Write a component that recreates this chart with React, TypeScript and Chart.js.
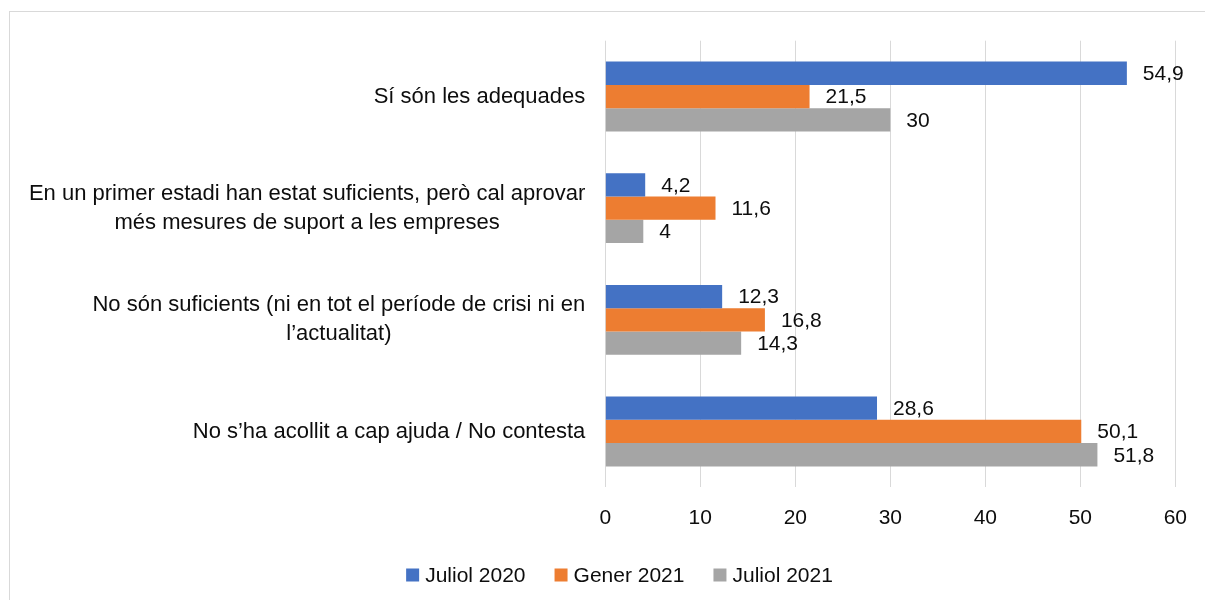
import React, { useEffect, useRef } from "react";
import { Chart, registerables } from "chart.js";

Chart.register(...registerables);

const categories: string[][] = [
  ["Sí són les adequades"],
  ["En un primer estadi han estat suficients, però cal aprovar", "més mesures de suport a les empreses"],
  ["No són suficients (ni en tot el període de crisi ni en", "l’actualitat)"],
  ["No s’ha acollit a cap ajuda / No contesta"],
];
const seriesNames = ["Juliol 2020", "Gener 2021", "Juliol 2021"];
const juliol2020 = [54.9, 4.2, 12.3, 28.6];
const gener2021 = [21.5, 11.6, 16.8, 50.1];
const juliol2021 = [30, 4, 14.3, 51.8];
const xMin = 0;
const xMax = 60;
const xStep = 10;

const colors = ["#4472C4", "#ED7D31", "#A5A5A5"];
const FONT = "'Liberation Sans', Arial, sans-serif";
const TEXT = "#0d0d0d";

const fmt = (v: number) => String(v).replace(".", ",");

const categoryLabelPlugin = {
  id: "categoryLabels",
  afterDraw(chart: any) {
    const ctx = chart.ctx;
    const yScale = chart.scales.y;
    const right = chart.chartArea.left - 20;
    const lineH = 29;
    ctx.save();
    ctx.font = `22px ${FONT}`;
    ctx.fillStyle = TEXT;
    ctx.textAlign = "center";
    ctx.textBaseline = "middle";
    (chart.data.labels as string[][]).forEach((lines, i) => {
      const yc = yScale.getPixelForValue(i);
      const maxW = Math.max(...lines.map((l) => ctx.measureText(l).width));
      const cx = right - maxW / 2;
      const y0 = yc - ((lines.length - 1) * lineH) / 2;
      lines.forEach((l, k) => ctx.fillText(l, cx, y0 + k * lineH));
    });
    ctx.restore();
  },
};

const dataLabelPlugin = {
  id: "dataLabels",
  afterDatasetsDraw(chart: any) {
    const ctx = chart.ctx;
    ctx.save();
    ctx.font = `21px ${FONT}`;
    ctx.fillStyle = TEXT;
    ctx.textAlign = "left";
    ctx.textBaseline = "middle";
    chart.data.datasets.forEach((ds: any, di: number) => {
      const meta = chart.getDatasetMeta(di);
      meta.data.forEach((el: any, i: number) => {
        ctx.fillText(fmt(ds.data[i]), el.x + 16, el.y + 1);
      });
    });
    ctx.restore();
  },
};

const legendPlugin = {
  id: "customLegend",
  afterDraw(chart: any) {
    const ctx = chart.ctx;
    ctx.save();
    ctx.font = `21px ${FONT}`;
    ctx.textBaseline = "middle";
    ctx.textAlign = "left";
    const cy = 575;
    const box = 13;
    const widths = chart.data.datasets.map((ds: any) => ctx.measureText(ds.label).width);
    const total = widths.reduce((a: number, b: number) => a + b, 0) + chart.data.datasets.length * (box + 6) + (chart.data.datasets.length - 1) * 29;
    let x = 619.5 - total / 2;
    chart.data.datasets.forEach((ds: any, i: number) => {
      ctx.fillStyle = ds.backgroundColor;
      ctx.fillRect(x, cy - box / 2, box, box);
      ctx.fillStyle = TEXT;
      ctx.fillText(ds.label, x + box + 6, cy + 1);
      x += box + 6 + widths[i] + 29;
    });
    ctx.restore();
  },
};

export default function App() {
  const canvasRef = useRef<HTMLCanvasElement | null>(null);

  useEffect(() => {
    document.body.style.margin = "0";
    const canvas = canvasRef.current;
    if (!canvas) return;
    const values = [juliol2020, gener2021, juliol2021];
    const chart = new Chart(canvas, {
      type: "bar",
      data: {
        labels: categories,
        datasets: seriesNames.map((name, i) => ({
          label: name,
          data: values[i],
          backgroundColor: colors[i],
          borderWidth: 0,
          categoryPercentage: 0.626,
          barPercentage: 1,
        })),
      },
      options: {
        indexAxis: "y",
        responsive: false,
        animation: false,
        devicePixelRatio: 1,
        layout: { padding: { top: 40.7, right: 28.3, left: 0, bottom: 0 } },
        plugins: {
          legend: { display: false },
          tooltip: { enabled: false },
        },
        scales: {
          x: {
            type: "linear",
            position: "bottom",
            min: xMin,
            max: xMax,
            ticks: {
              stepSize: xStep,
              padding: 18,
              color: TEXT,
              font: { family: FONT, size: 21 },
            },
            grid: { color: "#D9D9D9", lineWidth: 1, drawTicks: false },
            border: { display: false },
            afterFit: (s: any) => {
              s.height = 600 - 487.3;
            },
          },
          y: {
            type: "category",
            ticks: { display: false },
            grid: { display: false },
            border: { display: false },
            afterFit: (s: any) => {
              s.width = 605.3;
            },
          },
        },
      } as any,
      plugins: [categoryLabelPlugin, dataLabelPlugin, legendPlugin],
    });
    return () => chart.destroy();
  }, []);

  return (
    <div style={{ position: "relative", width: 1205, height: 600, overflow: "hidden", background: "#fff" }}>
      <div
        style={{
          position: "absolute",
          left: 9,
          top: 11,
          width: 1300,
          height: 700,
          border: "1px solid #D9D9D9",
          boxSizing: "border-box",
        }}
      />
      <canvas ref={canvasRef} width={1205} height={600} style={{ position: "absolute", left: 0, top: 0, display: "block" }} />
    </div>
  );
}
